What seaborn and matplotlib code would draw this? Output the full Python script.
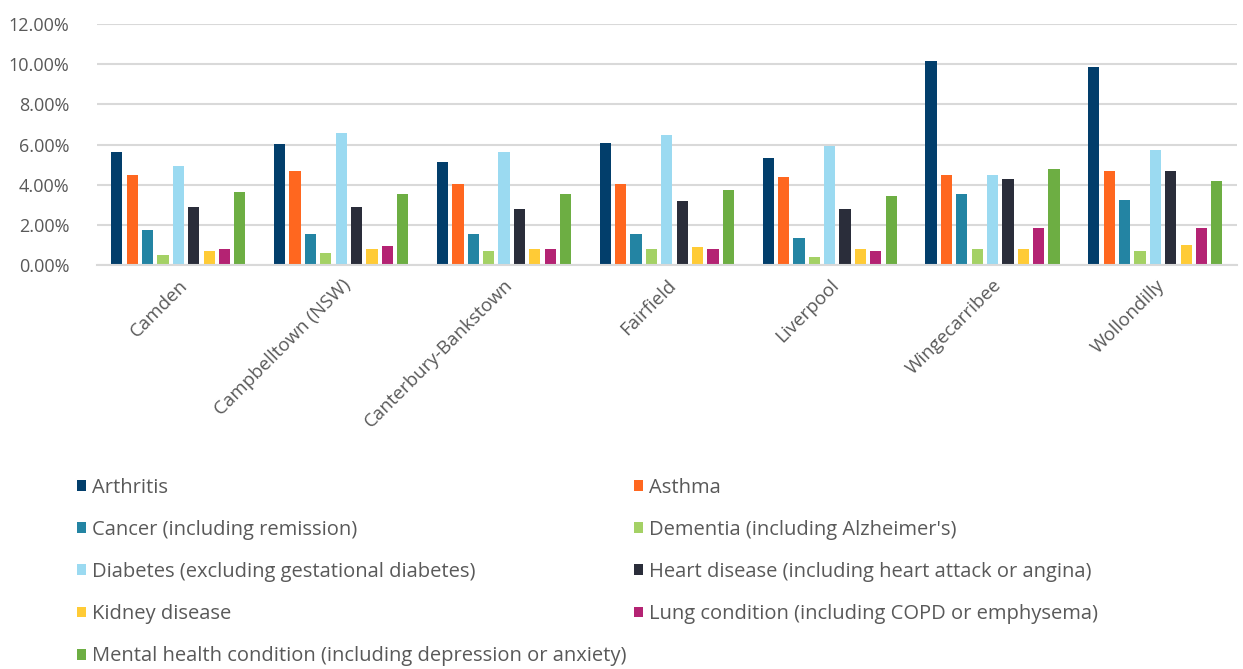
import matplotlib
matplotlib.use("Agg")
import matplotlib.pyplot as plt
import seaborn as sns
import pandas as pd
from matplotlib.ticker import FuncFormatter, MultipleLocator

areas = ["Camden", "Campbelltown (NSW)", "Canterbury-Bankstown", "Fairfield",
         "Liverpool", "Wingecarribee", "Wollondilly"]

conditions = [
    "Arthritis",
    "Asthma",
    "Cancer (including remission)",
    "Dementia (including Alzheimer's)",
    "Diabetes (excluding gestational diabetes)",
    "Heart disease (including heart attack or angina)",
    "Kidney disease",
    "Lung condition (including COPD or emphysema)",
    "Mental health condition (including depression or anxiety)",
]

# Prevalence (%) per area, one list per condition
arthritis = [5.61, 6.01, 5.14, 6.09, 5.33, 10.16, 9.88]
asthma = [4.48, 4.68, 4.02, 4.02, 4.38, 4.48, 4.67]
cancer = [1.74, 1.54, 1.54, 1.54, 1.36, 3.54, 3.25]
dementia = [0.50, 0.60, 0.70, 0.80, 0.41, 0.80, 0.70]
diabetes = [4.95, 6.57, 5.61, 6.47, 5.91, 4.48, 5.71]
heart = [2.87, 2.87, 2.77, 3.17, 2.77, 4.28, 4.67]
kidney = [0.70, 0.80, 0.80, 0.90, 0.80, 0.80, 0.98]
lung = [0.80, 0.96, 0.80, 0.80, 0.70, 1.83, 1.83]
mental = [3.62, 3.54, 3.54, 3.72, 3.44, 4.77, 4.20]

colors = ["#023E6B", "#FF671F", "#2384A3", "#A4D165", "#9BDAF1",
          "#2A2D3A", "#FFCB36", "#B42373", "#6DAE43"]

series = [arthritis, asthma, cancer, dementia, diabetes, heart, kidney, lung, mental]
rows = []
for cond, vals in zip(conditions, series):
    for area, v in zip(areas, vals):
        rows.append({"area": area, "condition": cond, "value": v})
df = pd.DataFrame(rows)

sns.set_theme(style="white")
plt.rcParams["font.family"] = ["Open Sans", "DejaVu Sans"]
text_color = "#595959"

fig = plt.figure(figsize=(12.43, 6.69), dpi=100)
ax = fig.add_axes([0.078, 0.604, 0.917, 0.360])

sns.barplot(data=df, x="area", y="value", hue="condition", order=areas,
            hue_order=conditions, palette=colors, saturation=1,
            width=0.85, gap=0.27, linewidth=0, ax=ax)

ax.set_ylim(0, 12)
ax.yaxis.set_major_locator(MultipleLocator(2))
ax.yaxis.set_major_formatter(FuncFormatter(lambda v, _: f"{v:.2f}%"))
ax.grid(axis="y", color="#D9D9D9", linewidth=1.5)
ax.set_axisbelow(True)
for s in ["top", "right", "left"]:
    ax.spines[s].set_visible(False)
ax.spines["bottom"].set_color("#D9D9D9")
ax.spines["bottom"].set_linewidth(1.5)
ax.set_xlabel("")
ax.set_ylabel("")
ax.tick_params(axis="y", length=0, labelsize=13, labelcolor=text_color, pad=20)
ax.tick_params(axis="x", length=0, labelsize=13.5, labelcolor=text_color, pad=8)
for lab in ax.get_xticklabels():
    lab.set_rotation(45)
    lab.set_ha("right")
    lab.set_rotation_mode("anchor")

handles, labels = ax.get_legend_handles_labels()
ax.legend_.remove()

legend_kw = dict(frameon=False, fontsize=14.5, labelcolor=text_color,
                 handlelength=0.45, handleheight=0.45, handletextpad=0.3,
                 labelspacing=1.1, borderaxespad=0, borderpad=0)
left_idx = [0, 2, 4, 6, 8]
right_idx = [1, 3, 5, 7]
leg1 = fig.legend([handles[i] for i in left_idx], [labels[i] for i in left_idx],
                  loc="upper left", bbox_to_anchor=(0.062, 0.286), **legend_kw)
leg2 = fig.legend([handles[i] for i in right_idx], [labels[i] for i in right_idx],
                  loc="upper left", bbox_to_anchor=(0.510, 0.286), **legend_kw)

fig.savefig("out.png", dpi=100, facecolor="white")
